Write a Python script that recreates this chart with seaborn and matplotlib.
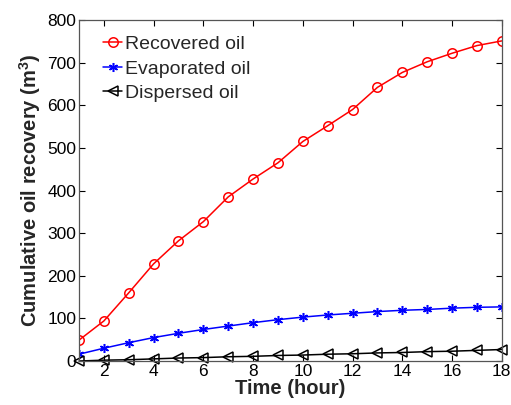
import matplotlib
matplotlib.use("Agg")
import matplotlib.pyplot as plt
import seaborn as sns
import pandas as pd

hours = list(range(1, 19))
recovered = [49, 94, 160, 228, 282, 327, 385, 427, 465, 515, 552, 590, 642, 677, 702, 722, 740, 751]
evaporated = [16, 30, 43, 55, 65, 74, 82, 90, 97, 103, 108, 112, 116, 119, 121, 124, 126, 127]
dispersed = [0, 2, 3, 5, 7, 8, 10, 11, 13, 14, 16, 17, 19, 20, 22, 23, 25, 27]
x_ticks = [2, 4, 6, 8, 10, 12, 14, 16, 18]
y_ticks = [0, 100, 200, 300, 400, 500, 600, 700, 800]

sns.set_theme(style="white")
plt.rcParams['font.family'] = ['Liberation Sans', 'DejaVu Sans']
plt.rcParams['mathtext.fontset'] = 'custom'
plt.rcParams['mathtext.rm'] = 'Liberation Sans'
plt.rcParams['mathtext.bf'] = 'Liberation Sans:bold'

fig = plt.figure(figsize=(5.11, 4.05), dpi=100)
ax = fig.add_axes([0.1546, 0.1086, 0.8274, 0.842])

df = pd.DataFrame({"hour": hours, "Recovered oil": recovered,
                   "Evaporated oil": evaporated, "Dispersed oil": dispersed})

sns.lineplot(data=df, x="hour", y="Recovered oil", ax=ax, color="red", lw=1.1,
             marker="o", markersize=6.8, markerfacecolor="none", markeredgecolor="red",
             markeredgewidth=1.1, label="Recovered oil")
sns.lineplot(data=df, x="hour", y="Evaporated oil", ax=ax, color="blue", lw=1.1,
             marker=(6, 2, 0), markersize=6.5, markeredgecolor="blue",
             markeredgewidth=1.1, label="Evaporated oil")
sns.lineplot(data=df, x="hour", y="Dispersed oil", ax=ax, color="black", lw=1.1,
             marker="<", markersize=7, markerfacecolor="none", markeredgecolor="black",
             markeredgewidth=1.1, label="Dispersed oil", clip_on=False)

ax.set_xlim(1, 18)
ax.set_ylim(0, 800)
ax.set_xticks(x_ticks)
ax.set_yticks(y_ticks)
ax.tick_params(direction="in", length=4, width=0.8, top=True, right=True,
               labelsize=12.5, colors="black", pad=2)
ax.tick_params(axis='x', bottom=True)
ax.tick_params(axis='y', left=True)
for s in ax.spines.values():
    s.set_color("#555555")
    s.set_linewidth(0.9)
ax.set_xlabel("Time (hour)", fontsize=14.5, fontweight="bold", labelpad=0)
ax.set_ylabel(r"Cumulative oil recovery (m$^{\mathbf{3}}$)", fontsize=14.5,
              fontweight="bold", labelpad=3)
ax.legend(loc="upper left", frameon=False, fontsize=14, handlelength=1.0,
          handletextpad=0.15, labelspacing=0.35, borderaxespad=0.4,
          bbox_to_anchor=(0.02, 1.0))
fig.savefig("out.png", dpi=100)
